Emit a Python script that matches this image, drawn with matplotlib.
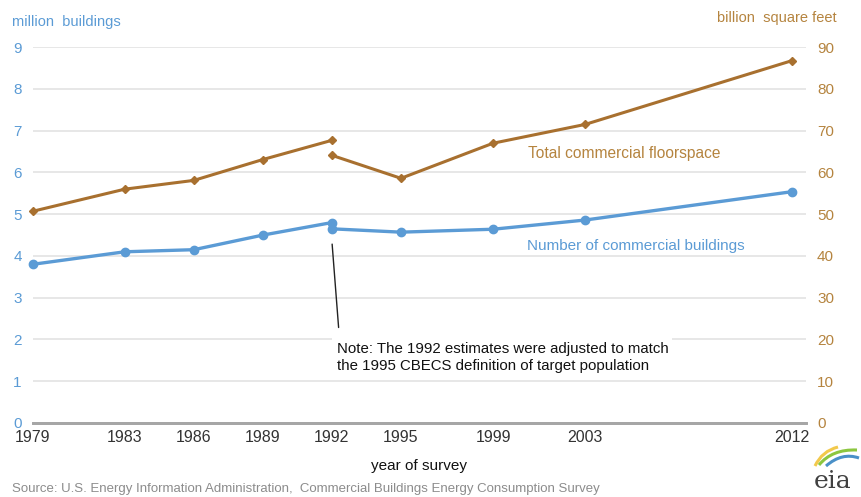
import numpy as np
import matplotlib
matplotlib.use("Agg")
import matplotlib.pyplot as plt
from matplotlib.path import Path
from matplotlib.patches import PathPatch

plt.rcParams['font.family'] = ['Liberation Sans', 'DejaVu Sans']

# survey years shown on the x axis
years = [1979, 1983, 1986, 1989, 1992, 1995, 1999, 2003, 2012]

# number of buildings (million), before / after 1992 adjustment
bld_years_old = [1979, 1983, 1986, 1989, 1992]
bld_old = [3.8, 4.1, 4.15, 4.5, 4.8]
bld_years_new = [1992, 1995, 1999, 2003, 2012]
bld_new = [4.65, 4.57, 4.64, 4.86, 5.54]

# floorspace (billion sq ft), before / after 1992 adjustment
fls_years_old = [1979, 1983, 1986, 1989, 1992]
fls_old = [50.7, 56.0, 58.1, 63.1, 67.7]
fls_years_new = [1992, 1995, 1999, 2003, 2012]
fls_new = [64.1, 58.6, 67.0, 71.5, 86.8]

blue = "#5B9BD5"
brown = "#A8702F"
brown_txt = "#B5843F"

W, H = 862, 497
fig = plt.figure(figsize=(W / 100, H / 100), dpi=100)
ax = fig.add_axes([0.038, 0.149, 0.897, 0.756])
ax2 = ax.twinx()

ax.set_xlim(1979, 2012.6)
ax.set_ylim(0, 9)
ax2.set_ylim(0, 90)
ax.set_yticks(range(0, 10))
ax2.set_yticks(range(0, 100, 10))
ax.set_xticks(years)
ax.set_xticklabels([str(y) for y in years], fontsize=11.5, color="#333333")

ax.grid(axis='y', color="#E3E3E3", lw=1.2)
ax.set_axisbelow(True)
for a in (ax, ax2):
    for s in ('top', 'left', 'right'):
        a.spines[s].set_visible(False)
    a.spines['bottom'].set_color("#A6A6A6")
    a.spines['bottom'].set_linewidth(2)
    a.tick_params(length=0)
ax.tick_params(axis='y', colors=blue, labelsize=11, pad=8)
ax.tick_params(axis='x', pad=5)
ax2.tick_params(axis='y', colors=brown_txt, labelsize=11, pad=8)

ax2.plot(fls_years_old, fls_old, color=brown, lw=2.2, marker='D', ms=4, clip_on=False)
ax2.plot(fls_years_new, fls_new, color=brown, lw=2.2, marker='D', ms=4, clip_on=False)
ax2.plot(bld_years_old, [v * 10 for v in bld_old], color=blue, lw=2.4, marker='o', ms=6, clip_on=False)
ax2.plot(bld_years_new, [v * 10 for v in bld_new], color=blue, lw=2.4, marker='o', ms=6, clip_on=False)

ax.set_xlabel("year of survey", fontsize=11, color="#111111", labelpad=10)

# series labels
ax2.text(2004.7, 64.5, "Total commercial floorspace", color=brown_txt, fontsize=11.2, ha='center', va='center')
ax2.text(2005.2, 42.5, "Number of commercial buildings", color=blue, fontsize=11, ha='center', va='center')

# note with leader line
ax2.annotate("", xy=(1992.0, 43.5), xytext=(1992.3, 22.2),
             arrowprops=dict(arrowstyle='-', color="#222222", lw=1))
ax2.text(1992.2, 19.5, "Note: The 1992 estimates were adjusted to match\nthe 1995 CBECS definition of target population",
         fontsize=10.8, color="#111111", ha='left', va='top', linespacing=1.3,
         bbox=dict(facecolor='white', edgecolor='none', pad=3))

fig.text(0.014, 0.955, "million  buildings", color=blue, fontsize=10.5, ha='left', va='center')
fig.text(0.970, 0.963, "billion  square feet", color=brown_txt, fontsize=10.5, ha='right', va='center')
fig.text(0.014, 0.016, "Source: U.S. Energy Information Administration,  Commercial Buildings Energy Consumption Survey",
         color="#8C8C8C", fontsize=9.5, ha='left', va='center')

# eia logo
fig.text(833 / W, 1 - 481 / H, "eia", family='DejaVu Serif', fontsize=18, color="#404040", ha='center', va='center')
swooshes = [
    ("#F2C94C", [(815, 466), (822, 451), (838, 447)]),
    ("#8CC63F", [(819, 465), (832, 449), (857, 450)]),
    ("#4A90C8", [(826, 466), (842, 452), (859, 458)]),
]
for col, pts in swooshes:
    verts = [(x / W, 1 - y / H) for x, y in pts]
    p = Path(verts, [Path.MOVETO, Path.CURVE3, Path.CURVE3])
    fig.add_artist(PathPatch(p, fill=False, edgecolor=col, lw=2.2, transform=fig.transFigure))

fig.savefig("out.png", dpi=100)
